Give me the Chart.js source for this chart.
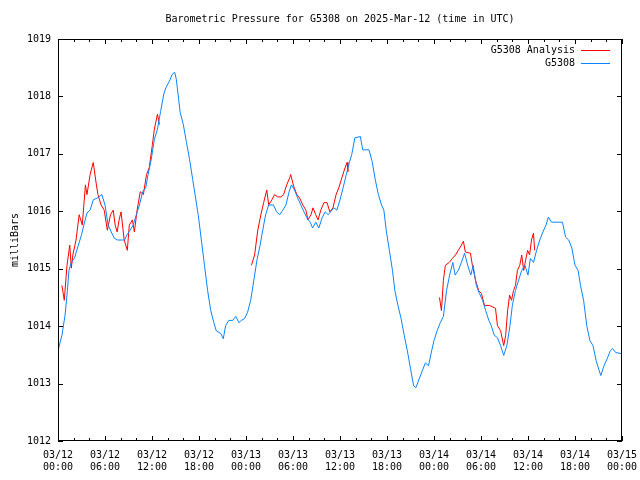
<!DOCTYPE html>
<html>
<head>
<meta charset="utf-8">
<script src="https://cdn.jsdelivr.net/npm/chart.js@4"></script>
<style>
html, body { margin: 0; padding: 0; background: #fff; }
</style>
</head>
<body>
<canvas id="myChart" width="640" height="480"></canvas>
<script>
const chartTitle = 'Barometric Pressure for G5308 on 2025-Mar-12 (time in UTC)';
const dayLabels = ['03/12', '03/13', '03/14', '03/15'];
const pressureTicks = [1012, 1013, 1014, 1015, 1016, 1017, 1018, 1019];

// G5308 observations, hours since 03/12 00:00 UTC
const blueHours = [0, 0.5, 0.9, 1.2, 1.4, 1.7, 2.1, 2.4, 3.0, 3.3, 3.7, 4.1, 4.5, 5.0, 5.6, 6.0, 6.4, 6.8, 7.2, 7.6,
  8.5, 8.8, 9.2, 9.6, 10.0, 10.4, 10.8, 11.2, 11.5, 11.9, 12.3, 12.7, 13.1, 13.5, 13.8, 14.2, 14.6, 14.9, 15.1, 15.4,
  15.6, 16.0, 16.4, 16.8, 17.2, 17.6, 17.9, 18.3, 18.7, 19.1, 19.5, 19.9, 20.2, 20.8, 21.1, 21.4, 21.8, 22.3, 22.7, 23.1,
  23.4, 23.8, 24.2, 24.6, 25.0, 25.4, 25.8, 26.1, 26.5, 26.9, 27.5, 27.9, 28.3, 28.7, 29.1, 29.5, 29.8, 30.2, 30.6, 31.0,
  31.4, 31.8, 32.2, 32.5, 32.9, 33.3, 33.7, 34.1, 34.5, 34.8, 35.2, 35.6, 36.0, 36.4, 36.8, 37.2, 37.5, 37.9, 38.6, 38.9,
  39.3, 39.7, 40.1, 40.5, 40.9, 41.3, 41.6, 41.9, 42.3, 42.7, 43.0, 43.4, 43.8, 44.2, 44.6, 45.0, 45.4, 45.7, 46.1, 46.5,
  46.9, 47.3, 47.7, 48.0, 48.4, 48.8, 49.2, 49.6, 50.0, 50.4, 50.7, 51.1, 51.5, 51.9, 52.3, 52.7, 53.0, 53.4, 53.8, 54.2,
  54.6, 55.0, 55.3, 55.7, 56.1, 56.5, 56.9, 57.3, 57.7, 58.0, 58.4, 58.8, 59.2, 59.6, 60.0, 60.3, 60.7, 61.1, 61.5, 61.9,
  62.3, 62.6, 63.0, 63.7, 64.4, 64.8, 65.2, 65.6, 66.0, 66.4, 66.7, 67.1, 67.5, 67.9, 68.3, 68.7, 69.1, 69.3, 69.7, 70.1,
  70.5, 70.8, 71.2, 72];
const bluePressure = [1013.57, 1013.84, 1014.19, 1014.62, 1014.97, 1015.11, 1015.18, 1015.32, 1015.59, 1015.76, 1015.97, 1016.02, 1016.2, 1016.23, 1016.29, 1016.11, 1015.76, 1015.64, 1015.53, 1015.5,
  1015.5, 1015.59, 1015.67, 1015.76, 1015.94, 1016.11, 1016.34, 1016.41, 1016.64, 1016.9, 1017.25, 1017.43, 1017.74, 1018.04, 1018.16, 1018.26, 1018.39, 1018.42, 1018.3, 1017.95,
  1017.72, 1017.51, 1017.2, 1016.9, 1016.55, 1016.2, 1015.94, 1015.5, 1015.06, 1014.62, 1014.27, 1014.06, 1013.92, 1013.87, 1013.78, 1014.01, 1014.1, 1014.1, 1014.17, 1014.06,
  1014.1, 1014.13, 1014.24, 1014.45, 1014.8, 1015.15, 1015.41, 1015.64, 1015.94, 1016.11, 1016.11, 1015.99, 1015.94, 1016.02, 1016.11, 1016.34, 1016.46, 1016.37, 1016.23, 1016.11,
  1015.99, 1015.88, 1015.81, 1015.71, 1015.81, 1015.71, 1015.88, 1015.99, 1015.94, 1015.99, 1016.06, 1016.02, 1016.2, 1016.41, 1016.64, 1016.85, 1016.99, 1017.28, 1017.3, 1017.07,
  1017.07, 1017.07, 1016.87, 1016.55, 1016.29, 1016.11, 1016.02, 1015.67, 1015.32, 1014.97, 1014.62, 1014.36, 1014.13, 1013.84, 1013.57, 1013.26, 1012.96, 1012.93, 1013.08, 1013.22,
  1013.36, 1013.31, 1013.57, 1013.75, 1013.92, 1014.06, 1014.17, 1014.62, 1014.89, 1015.11, 1014.89, 1014.97, 1015.11, 1015.27, 1015.06, 1014.89, 1015.06, 1014.71, 1014.57, 1014.45,
  1014.27, 1014.1, 1014.01, 1013.84, 1013.8, 1013.66, 1013.49, 1013.66, 1014.01, 1014.36, 1014.62, 1014.8, 1014.97, 1015.06, 1014.89, 1015.18, 1015.11, 1015.32, 1015.5, 1015.64,
  1015.76, 1015.9, 1015.81, 1015.81, 1015.81, 1015.55, 1015.5, 1015.36, 1015.06, 1014.97, 1014.71, 1014.45, 1014.01, 1013.75, 1013.66, 1013.4, 1013.22, 1013.14, 1013.31, 1013.43,
  1013.57, 1013.61, 1013.54, 1013.52];

// G5308 Analysis, null = gap between runs
const redHours = [0.5, 0.8, 1.15, 1.5, 1.7, 1.9, 2.3, 2.7, 3.1, 3.5, 3.7, 4.1, 4.5, 4.9, 5.1, 5.5, 5.9, 6.3, 6.7, 7.05,
  7.3, 7.55, 7.8, 8.05, 8.45, 8.85, 9.1, 9.5, 9.75, 10.1, 10.5, 10.9, 11.3, 11.65, 12.05, 12.3, 12.7, 12.95,
  18,
  24.7, 25.1, 25.5, 25.9, 26.25, 26.65, 26.9, 27.3, 27.65, 28.05, 28.45, 28.8, 29.2, 29.6, 29.7, 30.1, 30.5, 30.85, 31.25, 31.65,
  31.9, 32.3, 32.55, 32.9, 33.2, 33.55, 33.95, 34.35, 34.7, 35.1, 35.5, 35.85, 36.25, 36.65, 36.9, 37.0,
  44,
  48.7, 48.95, 49.2, 49.45, 49.95, 50.35, 50.75, 51.1, 51.5, 51.75, 52.0, 52.65, 52.9, 53.3, 53.7, 54.05, 54.45, 55.1, 55.85, 56.1,
  56.5, 56.9, 57.15, 57.4, 57.65, 57.9, 58.15, 58.4, 58.65, 58.95, 59.2, 59.45, 59.7, 59.95, 60.2, 60.45, 60.7, 60.85];
const redPressure = [1014.71, 1014.45, 1015.06, 1015.41, 1015.01, 1015.24, 1015.5, 1015.94, 1015.76, 1016.46, 1016.29, 1016.64, 1016.85, 1016.46, 1016.29, 1016.11, 1016.02, 1015.67, 1015.94, 1016.02,
  1015.76, 1015.64, 1015.85, 1015.99, 1015.5, 1015.32, 1015.76, 1015.85, 1015.64, 1016.02, 1016.34, 1016.29, 1016.64, 1016.76, 1017.16, 1017.43, 1017.69, 1017.51,
  null,
  1015.06, 1015.24, 1015.67, 1015.94, 1016.15, 1016.37, 1016.11, 1016.2, 1016.29, 1016.25, 1016.25, 1016.29, 1016.46, 1016.59, 1016.64, 1016.43, 1016.29, 1016.23, 1016.11, 1016.02,
  1015.85, 1015.94, 1016.06, 1015.94, 1015.85, 1016.02, 1016.15, 1016.15, 1015.99, 1016.06, 1016.29, 1016.41, 1016.59, 1016.76, 1016.85, 1016.69,
  null,
  1014.5, 1014.27, 1014.8, 1015.06, 1015.11, 1015.18, 1015.24, 1015.32, 1015.41, 1015.48, 1015.29, 1015.27, 1015.06, 1014.8, 1014.62, 1014.57, 1014.36, 1014.36, 1014.31, 1014.01,
  1013.92, 1013.66, 1013.84, 1014.27, 1014.54, 1014.45, 1014.62, 1014.71, 1014.97, 1015.06, 1015.24, 1014.97, 1015.15, 1015.32, 1015.24, 1015.5, 1015.62, 1015.32];

const monoFont = 'DejaVu Sans Mono';

// gnuplot style: box border, inward ticks, title and key inside the plot
const gnuFrame = {
    id: 'gnuFrame',
    afterDraw(chart) {
        const ctx = chart.ctx;
        const a = chart.chartArea;
        const xs = chart.scales.x;
        const ys = chart.scales.y;
        ctx.save();
        ctx.strokeStyle = '#000';
        ctx.lineWidth = 1;
        ctx.strokeRect(a.left + 0.5, a.top + 0.5, a.right - a.left - 1, a.bottom - a.top - 1);
        ctx.beginPath();
        pressureTicks.forEach(v => {
            const py = Math.round(ys.getPixelForValue(v)) + 0.5;
            ctx.moveTo(a.left, py); ctx.lineTo(a.left + 5, py);
            ctx.moveTo(a.right, py); ctx.lineTo(a.right - 5, py);
        });
        for (let h = 0; h <= 72; h += 2) {
            const len = h % 6 === 0 ? 5 : 3;
            const px = Math.round(xs.getPixelForValue(h)) + 0.5;
            ctx.moveTo(px, a.bottom); ctx.lineTo(px, a.bottom - len);
            ctx.moveTo(px, a.top); ctx.lineTo(px, a.top + len);
        }
        ctx.stroke();

        ctx.fillStyle = '#000';
        ctx.font = '10px "' + monoFont + '"';
        ctx.textBaseline = 'middle';
        ctx.textAlign = 'center';
        ctx.fillText(chartTitle, (a.left + a.right) / 2, 19);

        // key
        ctx.textAlign = 'right';
        const keys = [chart.data.datasets[0], chart.data.datasets[1]];
        keys.forEach((ds, i) => {
            const ky = 50 + i * 13;
            ctx.fillStyle = '#000';
            ctx.fillText(ds.label, 575, ky);
            ctx.strokeStyle = ds.borderColor;
            ctx.beginPath();
            ctx.moveTo(581, ky + 0.5);
            ctx.lineTo(610, ky + 0.5);
            ctx.stroke();
        });
        ctx.restore();
    }
};

let ctx = document.getElementById('myChart');
let myChart = new Chart(ctx, {
    type: 'line',
    data: {
        datasets: [{
            label: 'G5308 Analysis',
            data: redHours.map((h, i) => ({ x: h, y: redPressure[i] })),
            borderColor: '#ff0000',
            borderWidth: 1,
            pointRadius: 0,
            tension: 0,
            spanGaps: false,
            order: 1
        }, {
            label: 'G5308',
            data: blueHours.map((h, i) => ({ x: h, y: bluePressure[i] })),
            borderColor: '#0a84ff',
            borderWidth: 1,
            pointRadius: 0,
            tension: 0,
            order: 0
        }]
    },
    options: {
        responsive: false,
        animation: false,
        layout: {
            padding: { top: 39, right: 18, left: 0, bottom: 0 }
        },
        scales: {
            x: {
                type: 'linear',
                min: 0,
                max: 72,
                afterFit: s => { s.height = 39; s.paddingLeft = 0; s.paddingRight = 0; },
                grid: { display: false, drawTicks: false, tickLength: 0 },
                border: { display: false },
                ticks: {
                    stepSize: 6,
                    autoSkip: false,
                    maxRotation: 0,
                    padding: 8,
                    color: '#000',
                    font: { family: monoFont, size: 10, lineHeight: 1.2 },
                    callback: v => [dayLabels[Math.floor(v / 24)], String(v % 24).padStart(2, '0') + ':00']
                }
            },
            y: {
                min: 1012,
                max: 1019,
                afterFit: s => { s.width = 58; },
                grid: { display: false, drawTicks: false, tickLength: 0 },
                border: { display: false },
                title: {
                    display: true,
                    text: 'milliBars',
                    color: '#000',
                    font: { family: monoFont, size: 10 },
                    padding: { top: 9, bottom: 0 }
                },
                ticks: {
                    stepSize: 1,
                    padding: 7,
                    color: '#000',
                    font: { family: monoFont, size: 10 },
                    callback: v => String(v)
                }
            }
        },
        plugins: {
            legend: { display: false },
            tooltip: { enabled: false }
        }
    },
    plugins: [gnuFrame]
});
</script>
</body>
</html>
